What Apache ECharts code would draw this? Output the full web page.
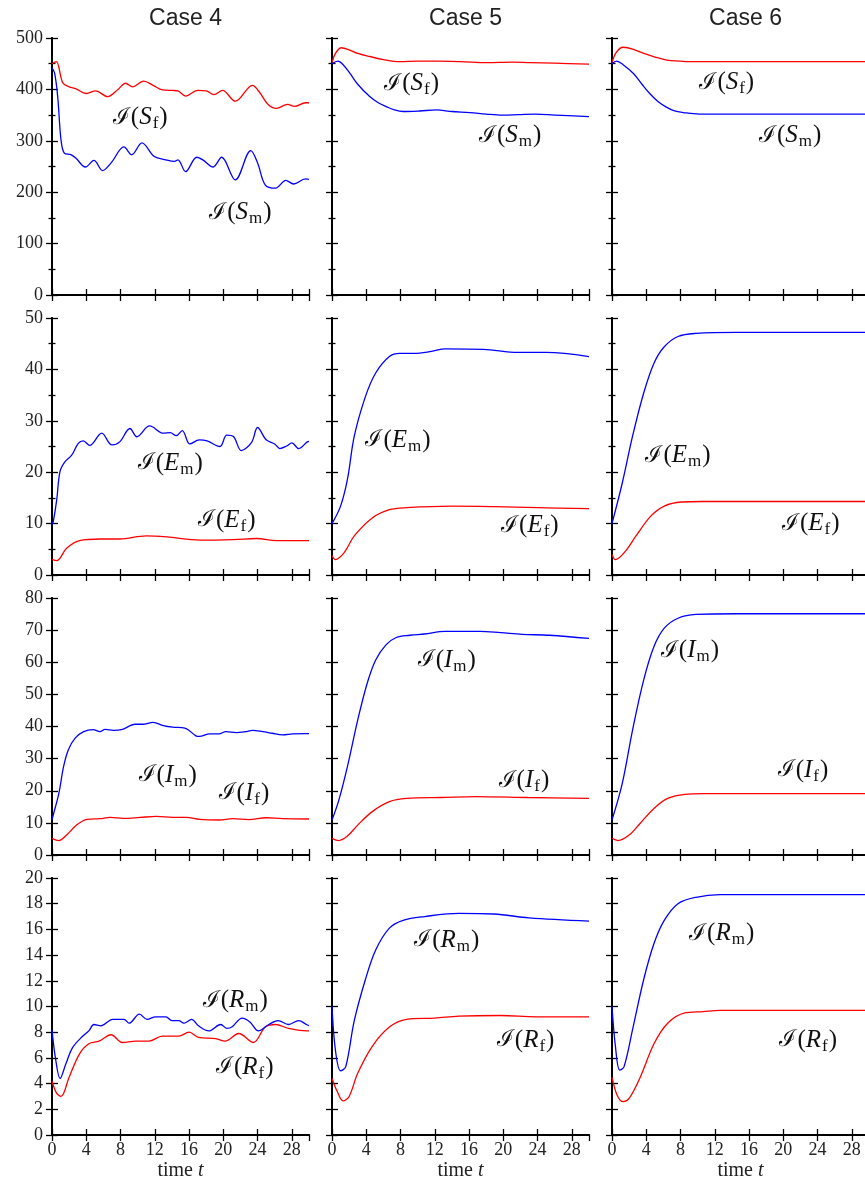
<!DOCTYPE html>
<html>
<head>
<meta charset="utf-8">
<script src="https://cdn.jsdelivr.net/npm/echarts@6/dist/echarts.min.js"></script>
<style>
  html, body { margin: 0; padding: 0; background: #fff; }
  #main { width: 865px; height: 1184px; }
</style>
</head>
<body>
<div id="main"></div>
<script>
// ---- data: [time, value] ----
var case4_Sf = [[0,450],[0.5,454],[1.25,413],[2,405],[2.8,401],[4,392],[5.1,397],[6.5,386],[7.7,400],[8.6,412],[9.4,405],[10.7,416],[11.8,408],[12.9,399],[14.1,398],[14.7,397],[15.6,387],[17,398],[18,397],[18.9,390],[19.9,398],[21.4,377],[23.4,408],[24.2,395],[25.2,371],[26.2,363],[27.5,371],[28.3,367],[29.6,374],[30,374]];
var case4_Sm = [[0,442],[0.3,432],[0.66,387],[1.05,302],[1.44,276],[2.2,273],[2.8,266],[3.9,249],[4.9,262],[5.9,242],[6.9,257],[8.4,288],[9.3,273],[10.5,296],[11.9,270],[13.3,263],[14.3,260],[14.7,263],[15.6,240],[16.9,268],[17.6,263],[18.8,249],[19.8,268],[21.4,224],[23.2,281],[24,257],[24.9,214],[26.1,208],[27.3,223],[28.2,216],[29.6,226],[30,225]];
var case5_Sf = [[0,452],[0.4,470],[1.1,481],[2,477],[3,470],[4.4,464],[6,458],[7.9,454],[10,455],[12.1,455],[15,454],[18.1,452],[21,453],[23.1,452],[26,451],[30,449]];
var case5_Sm = [[0,450],[0.7,455],[1.3,448],[2.1,431],[3,410],[4.4,386],[5.4,374],[6.4,366],[7.3,360],[8.3,357],[10.2,358],[12.2,360],[14,357],[16.1,355],[18,352],[19.9,350],[21.8,351],[23.8,352],[26,350],[30,347]];
var case6_Sf = [[0,452],[0.5,472],[1.3,482],[2.5,478],[3.7,470],[5,463],[6.4,457],[8,455],[8.8,454],[12,454],[20,454],[30,454]];
var case6_Sm = [[0,450],[0.55,455],[1.3,448],[2.5,431],[3.5,410],[4.4,392],[5.4,376],[6.4,365],[7.3,358],[8.3,355],[10.2,352],[14,352],[20,352],[30,352]];

var case4_Em = [[0,9.8],[0.15,10.4],[0.55,14.6],[0.93,20.1],[1.5,22],[2.3,23.3],[3.07,25.6],[3.65,26.1],[4.4,25.2],[5.8,27.6],[7,25.3],[7.9,25.9],[9.1,28.5],[9.9,26.9],[11.4,29],[13,27.6],[13.8,27.7],[14.5,27.1],[15.2,28.1],[16.1,25.5],[17.2,26.3],[18.1,26.1],[19.6,25],[20.4,27.2],[21.2,26.9],[22.1,24.2],[23.3,25.8],[24,28.7],[25,26.3],[26,25.5],[26.6,24.6],[27.4,25.1],[28,25.7],[28.8,24.6],[29.8,25.9],[30,26]];
var case4_Ef = [[0,3.05],[0.55,2.8],[1.7,5.2],[3.2,6.7],[5.7,7.0],[7.9,7.0],[11,7.6],[13.4,7.4],[17.3,6.8],[21.2,6.9],[23.9,7.1],[26.2,6.7],[30,6.7]];
var case5_Em = [[0,10],[1,13.4],[1.8,18.6],[2.6,27],[3.9,34.7],[5.1,39.3],[6.7,42.5],[7.9,43.1],[9.6,43.1],[11.6,43.5],[13.2,44],[17.7,43.9],[21.7,43.3],[25,43.3],[30,42.5]];
var case5_Ef = [[0,3.8],[0.4,3.0],[1.4,4.3],[2.6,7.6],[4.7,11.1],[6.7,12.7],[8.7,13.1],[14,13.4],[18.9,13.3],[24,13.1],[30,12.9]];
var case6_Em = [[0,10],[1.2,17.9],[2.4,27],[3.7,35.4],[4.9,41.2],[6.1,44.4],[7.7,46.4],[9.8,47],[14.6,47.2],[20,47.2],[30,47.2]];
var case6_Ef = [[0,4.0],[0.4,3.0],[1.6,4.7],[2.8,7.6],[4.5,11.4],[6.1,13.4],[8.1,14.2],[10.6,14.3],[20,14.3],[30,14.3]];

var case4_Im = [[0,11],[0.2,13],[0.8,19.2],[1.35,27.5],[1.9,32.7],[2.7,36.4],[3.7,38.4],[4.8,39],[5.6,38.4],[6.2,39.1],[7.2,38.8],[8.1,39],[9.7,40.7],[10.6,40.7],[11.8,41.3],[13,40.3],[14.1,39.8],[15.5,39.5],[16.8,37.1],[17.2,36.9],[18.4,37.7],[19.5,37.7],[20.3,38.4],[21.5,38.1],[22.6,38.4],[23.4,38.8],[24.6,38.4],[25.7,37.9],[26.9,37.4],[28.1,37.7],[29.6,37.8],[30,37.8]];
var case4_If = [[0,5.2],[0.8,4.5],[1.7,6.2],[2.9,9.4],[4.1,11.1],[5.6,11.3],[6.8,11.7],[8.3,11.4],[10.3,11.7],[12.2,12.0],[14.1,11.7],[15.7,11.7],[17.2,11.1],[19.5,10.9],[21.1,11.3],[23,11.0],[25,11.6],[26.9,11.3],[30,11.2]];
var case5_Im = [[0,10.9],[0.8,17.1],[1.8,27.5],[3,42],[4.1,53.4],[5.1,60.7],[6.3,65.4],[7.5,67.7],[9.1,68.4],[10.8,68.8],[13.2,69.6],[17.3,69.6],[19.7,69.2],[22.2,68.7],[25.4,68.4],[30,67.4]];
var case5_If = [[0,5.2],[0.8,4.5],[1.8,5.9],[3,9.3],[4.7,13.5],[6.7,16.6],[8.7,17.6],[12.8,17.9],[16.8,18.2],[22.9,17.9],[30,17.6]];
var case6_Im = [[0,10.9],[1.2,22.3],[2.4,38.9],[3.7,54.5],[4.9,64.9],[6.1,70.6],[7.7,73.7],[9.8,74.9],[14.6,75.1],[30,75.1]];
var case6_If = [[0,5.2],[0.7,4.5],[2,6.2],[3.3,9.9],[4.9,14.5],[6.5,17.6],[8.5,18.9],[10.6,19.1],[30,19.1]];

var case4_Rm = [[0,8.2],[0.4,6.0],[0.95,4.4],[1.6,5.5],[2.4,6.8],[3.6,7.7],[4.3,8.1],[4.9,8.6],[5.7,8.5],[7.1,9.0],[8.4,9.0],[9,8.7],[10.2,9.4],[11.1,9.0],[12.1,9.2],[13.3,9.2],[14,8.9],[14.8,8.9],[15.4,8.7],[16.3,9.0],[17.1,8.5],[18.3,8.1],[19.7,8.6],[20.4,8.3],[21,8.4],[22.2,9.1],[23.1,8.8],[24.1,8.1],[25.3,8.6],[26.4,8.9],[27.6,8.6],[28.8,8.9],[29.7,8.6],[30,8.5]];
var case4_Rf = [[0,4.2],[0.5,3.3],[1.05,3.0],[2,4.5],[3.2,6.3],[4.3,7.1],[5.5,7.3],[6.9,7.8],[8.2,7.2],[9.8,7.3],[11.3,7.3],[12.9,7.7],[14.8,7.7],[16,8.0],[17.1,7.6],[19.1,7.5],[20.2,7.3],[21.8,7.9],[23.5,7.2],[24.9,8.4],[26.1,8.6],[27.6,8.3],[29.7,8.1],[30,8.1]];
var case5_Rm = [[0,10],[0.4,6.6],[1,5.0],[1.6,5.3],[2.6,8.9],[3.9,12.1],[5.1,14.4],[6.7,16.1],[8.3,16.7],[10.8,17],[14.8,17.25],[18.9,17.2],[23,16.9],[30,16.65]];
var case5_Rf = [[0,4.4],[0.6,3.4],[1.3,2.65],[2,3.0],[3,4.8],[4.7,6.9],[6.7,8.4],[8.7,9.0],[12,9.1],[14.8,9.25],[19.7,9.3],[23.8,9.2],[30,9.2]];
var case6_Rm = [[0,10],[0.4,6.9],[0.9,5.05],[1.4,5.3],[2.4,8.2],[3.7,12.1],[4.9,14.9],[6.1,16.7],[7.7,18],[9.8,18.5],[12.6,18.7],[30,18.7]];
var case6_Rf = [[0,4.5],[0.6,3.1],[1.3,2.6],[2,2.85],[3.3,4.5],[4.9,7.1],[6.5,8.7],[8.5,9.5],[10.6,9.6],[12.6,9.7],[30,9.7]];

var cases = ['Case 4', 'Case 5', 'Case 6'];
var vars = ['S', 'E', 'I', 'R'];
var yMax = [500, 50, 80, 20];
var yStep = [100, 10, 10, 2];
var yMinor = [true, true, false, false];

var maleData = [[case4_Sm, case5_Sm, case6_Sm], [case4_Em, case5_Em, case6_Em], [case4_Im, case5_Im, case6_Im], [case4_Rm, case5_Rm, case6_Rm]];
var femaleData = [[case4_Sf, case5_Sf, case6_Sf], [case4_Ef, case5_Ef, case6_Ef], [case4_If, case5_If, case6_If], [case4_Rf, case5_Rf, case6_Rf]];
// label anchors in data units
var maleLabelAt = [[[22,161],[20.8,311],[20.8,311]], [[13.8,21.8],[7.7,26.3],[7.7,23.3]], [[13.5,24.9],[13.4,60.7],[9.1,63.8]], [[21.4,10.5],[13.4,15.2],[12.8,15.7]]];
var femaleLabelAt = [[[10.3,346],[9.3,412],[13.4,414]], [[20.4,10.7],[23.1,9.7],[23.2,10.1]], [[22.4,19.3],[22.4,23.3],[22.3,26.5]], [[22.5,5.3],[22.6,7.4],[22.9,7.4]]];

var colLeft = [52, 332, 612];
var rowTop = [38, 318, 598, 878];
var size = 257;

var serif = 'Liberation Serif';
var rich = {
    c: { fontFamily: 'DejaVu Serif', fontSize: 23, color: '#111', verticalAlign: 'bottom', lineHeight: 30, padding: [0, 1, 3, 0] },
    p: { fontFamily: serif, fontSize: 25, color: '#111', verticalAlign: 'bottom', lineHeight: 30, padding: [0, 0, 2, 0] },
    v: { fontFamily: serif, fontStyle: 'italic', fontSize: 25, color: '#111', verticalAlign: 'bottom', lineHeight: 30, padding: [0, 1, 2, 0] },
    s: { fontFamily: serif, fontSize: 17, color: '#111', verticalAlign: 'bottom', lineHeight: 17, padding: [0, 1, 0, 0] }
};

function labelText(v, sub) {
    return '{c|ℐ}{p|(}{v|' + v + '}{s|' + sub + '}{p|)}';
}

var grids = [], xAxes = [], yAxes = [], series = [];
var tickStyle = { color: '#000', width: 1.3 };

for (var r = 0; r < 4; r++) {
    for (var c = 0; c < 3; c++) {
        var g = grids.length;
        grids.push({ left: colLeft[c], top: rowTop[r], width: size, height: size, outerBoundsMode: 'none', containLabel: false });
        var bottomRow = (r === 3);
        var xBase = {
            type: 'value', gridIndex: g, min: 0, max: 30, interval: 4,
            axisLine: { show: true, lineStyle: { color: '#000', width: 2 } },
            axisTick: { show: true, inside: true, length: 6, lineStyle: tickStyle },
            splitLine: { show: false }
        };
        xAxes.push(Object.assign({}, xBase, {
            position: 'bottom',
            axisLabel: { show: bottomRow, showMaxLabel: false, margin: 6, fontFamily: serif, fontSize: 18, color: '#222' },
            name: bottomRow ? 'time {i|t}' : '',
            nameLocation: 'middle', nameGap: 26,
            nameTextStyle: { fontFamily: serif, fontSize: 20, color: '#222',
                rich: { i: { fontFamily: serif, fontStyle: 'italic', fontSize: 20, color: '#222' } } }
        }));
        xAxes.push(Object.assign({}, xBase, { position: 'top', axisLabel: { show: false } }));

        var yBase = {
            type: 'value', gridIndex: g, min: 0, max: yMax[r], interval: yStep[r],
            axisLine: { show: true, lineStyle: { color: '#000', width: 2 } },
            axisTick: { show: true, inside: true, length: 6, lineStyle: tickStyle },
            minorTick: { show: yMinor[r], splitNumber: 2, length: 3.5, lineStyle: tickStyle },
            splitLine: { show: false }, minorSplitLine: { show: false }
        };
        yAxes.push(Object.assign({}, yBase, {
            position: 'left',
            axisLabel: { show: c === 0, margin: 9, fontFamily: serif, fontSize: 18, color: '#222' }
        }));
        yAxes.push(Object.assign({}, yBase, { position: 'right', axisLabel: { show: false } }));

        var xi = 2 * g, yi = 2 * g;
        series.push({
            type: 'line', xAxisIndex: xi, yAxisIndex: yi,
            data: femaleData[r][c], showSymbol: false, symbol: 'none', smooth: 0.35,
            lineStyle: { color: '#f00', width: 1.3 }, z: 3,
            markPoint: {
                symbol: 'circle', symbolSize: 1, silent: true,
                itemStyle: { color: 'rgba(0,0,0,0)' },
                label: { show: true, position: 'inside', formatter: labelText(vars[r], 'f'), rich: rich },
                data: [{ coord: femaleLabelAt[r][c] }]
            }
        });
        series.push({
            type: 'line', xAxisIndex: xi, yAxisIndex: yi,
            data: maleData[r][c], showSymbol: false, symbol: 'none', smooth: 0.35,
            lineStyle: { color: '#00f', width: 1.3 }, z: 3,
            markPoint: {
                symbol: 'circle', symbolSize: 1, silent: true,
                itemStyle: { color: 'rgba(0,0,0,0)' },
                label: { show: true, position: 'inside', formatter: labelText(vars[r], 'm'), rich: rich },
                data: [{ coord: maleLabelAt[r][c] }]
            }
        });
    }
}

var titles = cases.map(function (t, j) {
    return {
        text: t, left: colLeft[j] + size / 2, top: 2, textAlign: 'center',
        textStyle: { fontFamily: 'Liberation Sans', fontSize: 23, fontWeight: 'normal', color: '#222' }
    };
});

var chart = echarts.init(document.getElementById('main'), null, { renderer: 'canvas' });
chart.setOption({
    animation: false,
    backgroundColor: '#fff',
    title: titles,
    grid: grids,
    xAxis: xAxes,
    yAxis: yAxes,
    series: series
});
</script>
</body>
</html>
